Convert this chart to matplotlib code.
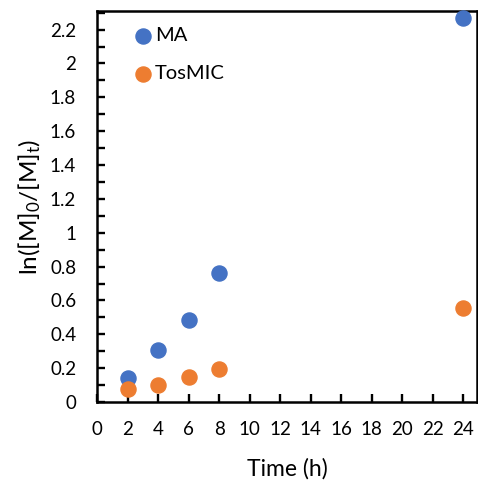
import numpy as np
import matplotlib.pyplot as plt
from matplotlib.ticker import MultipleLocator

plt.rcParams["font.family"] = ["Lato", "DejaVu Sans"]
plt.rcParams["mathtext.default"] = "regular"

time_h = [2, 4, 6, 8, 24]
ma = [0.14, 0.31, 0.485, 0.76, 2.27]
tosmic = [0.077, 0.099, 0.146, 0.195, 0.554]


def main():
    fig = plt.figure(figsize=(4.78, 4.83), dpi=100)
    ax = fig.add_axes([97 / 478, 1 - 402 / 483, 380 / 478, 391 / 483])

    ax.scatter(time_h, ma, s=118, color="#4472C4", label="MA", zorder=3, clip_on=False)
    ax.scatter(time_h, tosmic, s=118, color="#ED7D31", label="TosMIC", zorder=3, clip_on=False)

    ax.set_xlim(0, 24.9)
    ax.set_ylim(0, 2.31)
    ax.xaxis.set_major_locator(MultipleLocator(2))
    ax.yaxis.set_major_locator(MultipleLocator(0.2))
    ax.yaxis.set_minor_locator(MultipleLocator(0.1))
    ax.yaxis.set_major_formatter(plt.FuncFormatter(lambda v, p: f"{v:.1f}".rstrip("0").rstrip(".") if v else "0"))

    for sp in ax.spines.values():
        sp.set_linewidth(1.8)
    ax.tick_params(axis="both", which="both", direction="in", width=1.7, labelsize=13.5)
    ax.tick_params(axis="both", which="major", length=5.5)
    ax.tick_params(axis="y", which="minor", length=5.5)
    ax.tick_params(axis="x", pad=14)
    ax.tick_params(axis="y", pad=15)

    ax.set_xlabel("Time (h)", fontsize=16.5, labelpad=14)
    ax.set_ylabel(r"ln([M]$_0$/[M]$_t$)", fontsize=17.5, labelpad=5)

    ax.legend(loc="upper left", bbox_to_anchor=(0.06, 0.995), frameon=False, fontsize=14.5,
              handlelength=0.9, handletextpad=0.15, labelspacing=1.05, borderaxespad=0.3)

    fig.savefig("out.png", dpi=100)


if __name__ == "__main__":
    main()
